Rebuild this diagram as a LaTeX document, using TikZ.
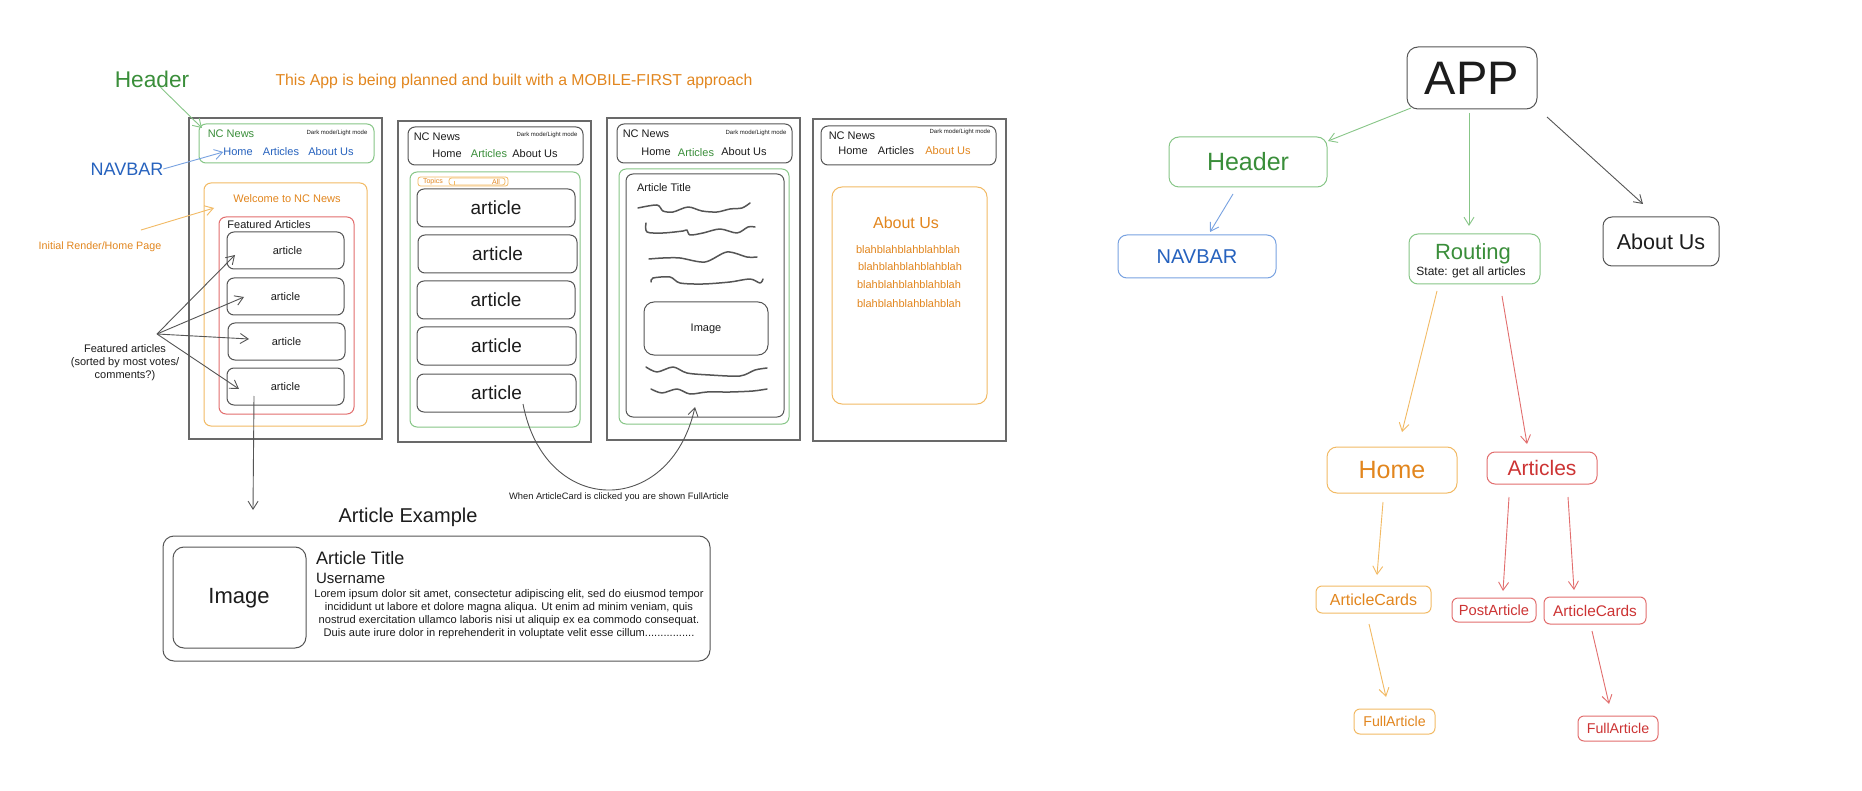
\documentclass[tikz,border=0pt]{standalone}
\usepackage{fontspec}
\setmainfont{Liberation Sans}
\usetikzlibrary{fit,calc,arrows.meta}
\definecolor{gtx}{RGB}{58,142,58}
\definecolor{gln}{RGB}{135,198,135}
\definecolor{btx}{RGB}{38,98,190}
\definecolor{bln}{RGB}{120,162,225}
\definecolor{otx}{RGB}{226,134,30}
\definecolor{oln}{RGB}{242,186,100}
\definecolor{rtx}{RGB}{205,52,52}
\definecolor{rln}{RGB}{226,110,110}
\definecolor{kln}{RGB}{85,85,85}
\definecolor{ktx}{RGB}{28,28,28}
\definecolor{sln}{RGB}{105,105,105}
\newcommand\fz[1]{\fontsize{#1}{#1}\selectfont}
\tikzset{
  every node/.style={inner sep=0pt,outer sep=0pt,text=ktx},
  scr/.style={draw=sln,line width=1.1pt},
  kbx/.style={draw=kln,line width=1pt,rounded corners=7pt},
  gbx/.style={draw=gln,line width=1pt,rounded corners=7pt},
  obx/.style={draw=oln,line width=1pt,rounded corners=7pt},
  rbx/.style={draw=rln,line width=1pt,rounded corners=7pt},
  bbx/.style={draw=bln,line width=1pt,rounded corners=7pt},
  gt/.style={text=gtx},
  ot/.style={text=otx},
  rt/.style={text=rtx},
  bt/.style={text=btx},
  arr/.style={-{Straight Barb[length=8pt,width=10pt]},line width=0.9pt},
  ga/.style={arr,draw=gln},
  oa/.style={arr,draw=oln},
  ra/.style={arr,draw=rln},
  ba/.style={arr,draw=bln},
  ka/.style={arr,draw=kln},
  squig/.style={draw=kln,line width=1.5pt,line cap=round,line join=round},
}
\begin{document}
\begin{tikzpicture}[x=1pt,y=-1pt]
\useasboundingbox (0,0) rectangle (1862,791);
\fill[white] (0,0) rectangle (1862,791);

% ---------- left annotations ----------
\node[gt,font=\fz{22.7}] (hdrlbl) at (152,79) {Header};
\node[ot,font=\fz{15.8}] (title) at (514,81) {This App is being planned and built with a MOBILE-FIRST approach};
\node[bt,font=\fz{18}] (navlbl) at (127,169) {NAVBAR};
\node[ot,font=\fz{10.7}] (initlbl) at (100,247) {Initial Render/Home Page};
\node[font=\fontsize{11}{13}\selectfont,align=center] (falbl) at (125,363) {Featured articles\\(sorted by most votes/\\comments?)};

% ---------- screen 1 ----------
\node[scr,fit={(189,118)(382,439)}] (s1) {};
\node[gbx,fit={(199,124)(374,163)}] (s1h) {};
\node[gt,font=\fz{11}] (s1nc) at (231,134) {NC News};
\node[font=\fz{6}] (s1dm) at (337,133) {Dark mode/Light mode};
\node[bt,font=\fz{11}] (s1home) at (238,152) {Home};
\node[bt,font=\fz{11}] (s1art) at (281,152) {Articles};
\node[bt,font=\fz{11}] (s1ab) at (331,152) {About Us};
\node[obx,fit={(204,183)(367,426)}] (s1o) {};
\node[ot,font=\fz{11}] (s1wel) at (287,199) {Welcome to NC News};
\node[rbx,fit={(219,217)(354,414)}] (s1r) {};
\node[font=\fz{11}] (s1fa) at (269,225) {Featured Articles};
\node[kbx,fit={(227,232)(344,269)}] (s1a1) {};
\node[kbx,fit={(227,278)(344,315)}] (s1a2) {};
\node[kbx,fit={(228,323)(345,360)}] (s1a3) {};
\node[kbx,fit={(227,368)(344,405)}] (s1a4) {};
\node[font=\fz{11}] (s1a1t) at ($(s1a1)+(2,0)$) {article};
\node[font=\fz{11}] (s1a2t) at (s1a2) {article};
\node[font=\fz{11}] (s1a3t) at (s1a3) {article};
\node[font=\fz{11}] (s1a4t) at (s1a4) {article};

\draw[ga] (hdrlbl) -- ($(s1h.north west)+(3,4)$);
\draw[ba] (navlbl.east) -- (s1home.west);
\coordinate (initTip) at (214,208);
\draw[oa] ($(initlbl.north)+(41,-12)$) -- (initTip);
\coordinate (fahub) at (157,334);
\draw[ka] (fahub) -- ($(s1a1.west)+(8,4.5)$);
\draw[ka] (fahub) -- ($(s1a2.west)+(17,0.5)$);
\draw[ka] (fahub) -- ($(s1a3.west)+(21,-2.5)$);
\draw[ka] (fahub) -- ($(s1a4.west)+(12,2.5)$);
\coordinate (exTip) at (253,510);
\draw[ka] ($(s1a4.south)+(-31.5,-9)$) -- (exTip);

% ---------- screen 2 ----------
\node[scr,fit={(398,121)(591,442)}] (s2) {};
\node[kbx,fit={(408,127)(583,165)}] (s2h) {};
\node[font=\fz{11}] (s2nc) at (437,137) {NC News};
\node[font=\fz{6}] (s2dm) at (547,135) {Dark mode/Light mode};
\node[font=\fz{11}] (s2home) at (447,154) {Home};
\node[gt,font=\fz{11}] (s2art) at (489,154) {Articles};
\node[font=\fz{11}] (s2ab) at (535,154) {About Us};
\node[gbx,fit={(410,172)(580,427)}] (s2g) {};
\node[draw=oln,line width=0.8pt,rounded corners=2.5pt,fit={(418,177)(508,186)}] (tp) {};
\node[draw=oln,line width=0.8pt,rounded corners=2.5pt,fit={(449,178)(505,185)}] (tpd) {};
\node[ot,font=\fz{7}] (tptx) at (433,181.5) {Topics};
\node[ot,font=\fz{7}] (tpall) at (496,181.5) {All};
\draw[oln,line width=0.8pt] (454,181) -- (454,185);
\node[kbx,fit={(417,189)(575,227)}] (s2a1) {};
\node[kbx,fit={(418,235)(577,273)}] (s2a2) {};
\node[kbx,fit={(417,281)(575,319)}] (s2a3) {};
\node[kbx,fit={(417,327)(576,365)}] (s2a4) {};
\node[kbx,fit={(417,374)(576,412)}] (s2a5) {};
\node[font=\fz{19}] (s2a1t) at (s2a1) {article};
\node[font=\fz{19}] (s2a2t) at (s2a2) {article};
\node[font=\fz{19}] (s2a3t) at (s2a3) {article};
\node[font=\fz{19}] (s2a4t) at (s2a4) {article};
\node[font=\fz{19}] (s2a5t) at (s2a5) {article};

% ---------- screen 3 ----------
\node[scr,fit={(607,118)(800,440)}] (s3) {};
\node[kbx,fit={(617,124)(792,163)}] (s3h) {};
\node[font=\fz{11}] (s3nc) at (646,134) {NC News};
\node[font=\fz{6}] (s3dm) at (756,133) {Dark mode/Light mode};
\node[font=\fz{11}] (s3home) at (656,152) {Home};
\node[gt,font=\fz{11}] (s3art) at (696,153) {Articles};
\node[font=\fz{11}] (s3ab) at (744,152) {About Us};
\node[gbx,fit={(619,169)(789,424)}] (s3g) {};
\node[kbx,fit={(626,174)(784,417)}] (s3in) {};
\node[font=\fz{11},anchor=west] (s3tt) at (637,188) {Article Title};
\draw[squig] plot[smooth] coordinates {(638,208) (657,205) (663,211) (673,212) (688,207) (702,211) (717,212) (730,209) (742,208) (750,203)};
\draw[squig] plot[smooth] coordinates {(646,223) (647,232) (663,233) (683,231) (687,230) (690,235) (703,233) (720,229) (737,233) (748,227) (755,227)};
\draw[squig] plot[smooth] coordinates {(649,259) (663,258) (680,258) (705,262) (727,252) (747,257) (757,257)};
\draw[squig] plot[smooth] coordinates {(651,282) (653,278) (670,277) (680,283) (703,284) (730,282) (750,279) (760,283) (763,279)};
\node[kbx,fit={(644,302)(768,355)},rounded corners=10pt] (s3img) {};
\node[font=\fz{11}] (s3imgt) at (s3img) {Image};
\draw[squig] plot[smooth] coordinates {(646,367) (657,372) (673,367) (687,373) (710,375) (740,376) (755,370) (767,368)};
\draw[squig] plot[smooth] coordinates {(651,389) (662,393) (677,389) (690,394) (707,392) (730,392) (753,391) (767,389)};

\draw[ka] ($(s2a5.center)+(26.5,11)$) .. controls (545,518) and (670,518) .. ($(s3in.south)+(-10,-10)$);
\node[font=\fz{9.3}] (clicktx) at (619,497) {When ArticleCard is clicked you are shown FullArticle};

% ---------- screen 4 ----------
\node[scr,fit={(813,119)(1006,441)}] (s4) {};
\node[kbx,fit={(821,126)(996,165)}] (s4h) {};
\node[font=\fz{11}] (s4nc) at (852,136) {NC News};
\node[font=\fz{6}] (s4dm) at (960,132) {Dark mode/Light mode};
\node[font=\fz{11}] (s4home) at (853,151) {Home};
\node[font=\fz{11}] (s4art) at (896,151) {Articles};
\node[ot,font=\fz{11}] (s4ab) at (948,151) {About Us};
\node[obx,fit={(832,187)(987,404)},rounded corners=10pt] (s4o) {};
\node[ot,font=\fz{16}] (s4abt) at (906,223) {About Us};
\node[ot,font=\fz{11}] (bl1) at (908,250) {blahblahblahblahblah};
\node[ot,font=\fz{11}] (bl2) at (910,267) {blahblahblahblahblah};
\node[ot,font=\fz{11}] (bl3) at (909,285) {blahblahblahblahblah};
\node[ot,font=\fz{11}] (bl4) at (909,304) {blahblahblahblahblah};

% ---------- article example ----------
\node[font=\fz{20}] (extitle) at (408,517) {Article Example};
\node[kbx,fit={(163,536)(710,661)},rounded corners=11pt] (ex) {};
\node[kbx,fit={(173,547)(306,648)},rounded corners=11pt] (eximg) {};
\node[font=\fz{22}] (eximgt) at (239,598) {Image};
\node[font=\fz{18},anchor=west] (exat) at (316,558) {Article Title};
\node[font=\fz{15},anchor=west] (exun) at (316,578) {Username};
\node[font=\fontsize{11.1}{13}\selectfont,align=center] (lorem) at (509,614.5) {Lorem ipsum dolor sit amet, consectetur adipiscing elit, sed do eiusmod tempor\\incididunt ut labore et dolore magna aliqua. Ut enim ad minim veniam, quis\\nostrud exercitation ullamco laboris nisi ut aliquip ex ea commodo consequat.\\Duis aute irure dolor in reprehenderit in voluptate velit esse cillum................};

% ---------- component tree ----------
\node[kbx,fit={(1407,47)(1537,109)},rounded corners=11pt] (app) {};
\node[font=\fz{47}] (appt) at (app) {APP};
\node[gbx,fit={(1169,137)(1327,187)},rounded corners=10pt] (thdr) {};
\node[gt,font=\fz{25}] (thdrt) at (thdr) {Header};
\node[bbx,fit={(1118,235)(1276,278)},rounded corners=9pt] (tnav) {};
\node[bt,font=\fz{20}] (tnavt) at (tnav) {NAVBAR};
\node[gbx,fit={(1409,234)(1540,284)},rounded corners=9pt] (trout) {};
\node[gt,font=\fz{22}] (troutt) at (1473,254) {Routing};
\node[font=\fz{12}] (tstate) at (1471,272) {State: get all articles};
\node[kbx,fit={(1603,217)(1719,266)},rounded corners=9pt] (tabout) {};
\node[font=\fz{21.5}] (taboutt) at (tabout) {About Us};
\node[obx,fit={(1327,447)(1457,493)},rounded corners=10pt] (thome) {};
\node[ot,font=\fz{25}] (thomet) at (thome) {Home};
\node[rbx,fit={(1487,452)(1597,484)},rounded corners=8pt] (tarts) {};
\node[rt,font=\fz{21}] (tartst) at (tarts) {Articles};
\node[obx,fit={(1316,586)(1431,613)},rounded corners=6pt] (toac) {};
\node[ot,font=\fz{16}] (toact) at (toac) {ArticleCards};
\node[rbx,fit={(1452,598)(1536,622)},rounded corners=6pt] (tpost) {};
\node[rt,font=\fz{14.7}] (tpostt) at (tpost) {PostArticle};
\node[rbx,fit={(1544,597)(1646,624)},rounded corners=6pt] (trac) {};
\node[rt,font=\fz{15.4}] (tract) at (trac) {ArticleCards};
\node[obx,fit={(1354,709)(1435,734)},rounded corners=6pt] (tofa) {};
\node[ot,font=\fz{14.2}] (tofat) at (tofa) {FullArticle};
\node[rbx,fit={(1578,716)(1658,741)},rounded corners=6pt] (trfa) {};
\node[rt,font=\fz{14.2}] (trfat) at (trfa) {FullArticle};

\draw[ga] ($(app.south west)+(4,-1)$) -- ($(thdr.north east)+(1,4)$);
\draw[ga] ($(app.south)+(-3,4)$) -- ($(trout.north)+(-5.5,-8)$);
\draw[ka] ($(app.south east)+(10,8)$) -- ($(tabout.north)+(-18,-13)$);
\draw[ba] ($(thdr.south)+(-15,7)$) -- ($(tnav.north)+(13,-3)$);
\draw[oa] ($(trout.south)+(-37.5,7)$) -- ($(thome.north)+(10,-15)$);
\draw[ra] ($(trout.south)+(27.5,12)$) -- ($(tarts.north)+(-15,-8)$);
\draw[oa] ($(thome.south)+(-9,9)$) -- ($(toac.north)+(3.5,-11)$);
\draw[oa] ($(toac.south)+(-4.5,11)$) -- ($(tofa.north)+(-8.5,-12)$);
\draw[ra] ($(tarts.south)+(-33,13)$) -- ($(tpost.north)+(9,-7)$);
\draw[ra] ($(tarts.south)+(26,13)$) -- ($(trac.north)+(-21,-7)$);
\draw[ra] ($(trac.south)+(-3,7)$) -- ($(trfa.north)+(-9,-12)$);
\end{tikzpicture}
\end{document}
